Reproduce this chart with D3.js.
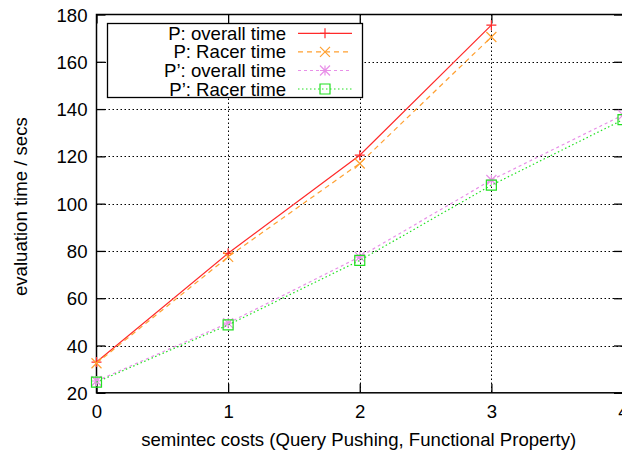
<!DOCTYPE html>
<html><head><meta charset="utf-8">
<script src="https://cdn.jsdelivr.net/npm/d3@7"></script>
<style>
html,body{margin:0;padding:0;background:#fff;}
svg{display:block;font-family:"Liberation Sans",Arial,Helvetica,sans-serif;}
</style></head>
<body>
<svg id="chart" width="622" height="454"></svg>
<script>
const xValues = [0, 1, 2, 3, 4];
const xTicks = [0, 1, 2, 3, 4];
const yTicks = [20, 40, 60, 80, 100, 120, 140, 160, 180];
const pOverall = [33, 79, 120.5, 175.5, null];
const pRacer = [32.5, 77.5, 117, 170.5, null];
const p2Overall = [25, 49.5, 77.5, 110, 137.5];
const p2Racer = [24.5, 48.7, 76, 107.8, 135.5];
const seriesNames = ["P: overall time", "P: Racer time", "P\u2019: overall time", "P\u2019: Racer time"];
const xLabel = "semintec costs (Query Pushing, Functional Property)";
const yLabel = "evaluation time / secs";

const svg = d3.select("#chart");
const L = 96.5, R = 623, T = 14.5, B = 392.8;
const x = d3.scaleLinear().domain([0, 4]).range([L, R]);
const y = d3.scaleLinear().domain([20, 180]).range([B, T]);
const FS = 18.6;

// grid
const grid = svg.append("g").attr("stroke", "#000").attr("stroke-width", 1).attr("stroke-dasharray", "1.5,2.5");
grid.selectAll("line.gy").data(yTicks.slice(1, -1)).join("line")
  .attr("x1", L).attr("x2", R).attr("y1", d => Math.round(y(d)) + 0.5).attr("y2", d => Math.round(y(d)) + 0.5);
grid.selectAll("line.gx").data(xTicks.slice(1, -1)).join("line")
  .attr("y1", T).attr("y2", B).attr("x1", d => Math.round(x(d)) + 0.5).attr("x2", d => Math.round(x(d)) + 0.5);

// axes with ticks (inward, mirrored)
const tl = 9;
const fmt = d3.format("d");
const axL = svg.append("g").attr("transform", `translate(${L},0)`)
  .call(d3.axisLeft(y).tickValues(yTicks).tickFormat(fmt).tickSize(-tl).tickPadding(9));
const axR = svg.append("g").attr("transform", `translate(${R},0)`)
  .call(d3.axisRight(y).tickValues(yTicks).tickSize(-tl).tickFormat(""));
const axB = svg.append("g").attr("transform", `translate(0,${B})`)
  .call(d3.axisBottom(x).tickValues(xTicks).tickFormat(fmt).tickSize(-tl).tickPadding(12));
const axT = svg.append("g").attr("transform", `translate(0,${T})`)
  .call(d3.axisTop(x).tickValues(xTicks).tickSize(-tl).tickFormat(""));
[axL, axR, axB, axT].forEach(a => {
  a.select(".domain").remove();
  a.selectAll(".tick line").attr("stroke", "#000").attr("stroke-width", 1.3);
  a.selectAll("text").attr("font-size", FS).attr("fill", "#000").attr("font-family", "\"Liberation Sans\",Arial,sans-serif");
});
axL.selectAll("text").attr("dy", "0.35em");

// border
svg.append("rect").attr("x", L).attr("y", T).attr("width", R - L).attr("height", B - T)
  .attr("fill", "none").attr("stroke", "#000").attr("stroke-width", 1.5);

// labels
svg.append("text").attr("x", (L + R) / 2 - 1).attr("y", 446).attr("text-anchor", "middle")
  .attr("font-size", FS).text(xLabel);
svg.append("text").attr("transform", `translate(27,${(T + B) / 2 + 3}) rotate(-90)`).attr("text-anchor", "middle")
  .attr("font-size", FS).text(yLabel);

// series
const styles = [
  {data: pOverall, color: "#ff2a2a", dash: null, marker: "plus"},
  {data: pRacer, color: "#ffa030", dash: "5,4", marker: "cross"},
  {data: p2Overall, color: "#e890e8", dash: "3,3", marker: "star"},
  {data: p2Racer, color: "#22e022", dash: "1.5,2.5", marker: "box"}
];
function drawMarker(g, type, cx, cy, color) {
  const s = 5;
  const p = d3.path();
  if (type === "plus" || type === "star") { p.moveTo(cx - s, cy); p.lineTo(cx + s, cy); p.moveTo(cx, cy - s); p.lineTo(cx, cy + s); }
  if (type === "cross" || type === "star") { p.moveTo(cx - s, cy - s); p.lineTo(cx + s, cy + s); p.moveTo(cx - s, cy + s); p.lineTo(cx + s, cy - s); }
  if (type === "box") { p.rect(cx - s, cy - s, 2 * s, 2 * s); }
  g.append("path").attr("d", p.toString()).attr("fill", "none").attr("stroke", color).attr("stroke-width", 1.2);
}
const line = d3.line().defined(d => d[1] != null).x(d => x(d[0])).y(d => y(d[1]));
styles.forEach(st => {
  const pts = xValues.map((v, i) => [v, st.data[i]]);
  const g = svg.append("g");
  g.append("path").attr("d", line(pts)).attr("fill", "none").attr("stroke", st.color)
    .attr("stroke-width", 1.2).attr("stroke-dasharray", st.dash);
  pts.filter(d => d[1] != null).forEach(d => drawMarker(g, st.marker, x(d[0]), y(d[1]), st.color));
});

// legend
const lg = svg.append("g");
lg.append("rect").attr("x", 107.5).attr("y", 23.5).attr("width", 255).attr("height", 74)
  .attr("fill", "#fff").attr("stroke", "#000").attr("stroke-width", 1.3);
const rowY = [33.3, 51.8, 70.5, 89];
styles.forEach((st, i) => {
  lg.append("text").attr("x", 286).attr("y", rowY[i]).attr("dy", "0.35em").attr("text-anchor", "end")
    .attr("font-size", FS).text(seriesNames[i]);
  lg.append("line").attr("x1", 298).attr("x2", 352).attr("y1", rowY[i]).attr("y2", rowY[i])
    .attr("stroke", st.color).attr("stroke-width", 1.2).attr("stroke-dasharray", st.dash);
  drawMarker(lg, st.marker, 325, rowY[i], st.color);
});
</script>
</body></html>
